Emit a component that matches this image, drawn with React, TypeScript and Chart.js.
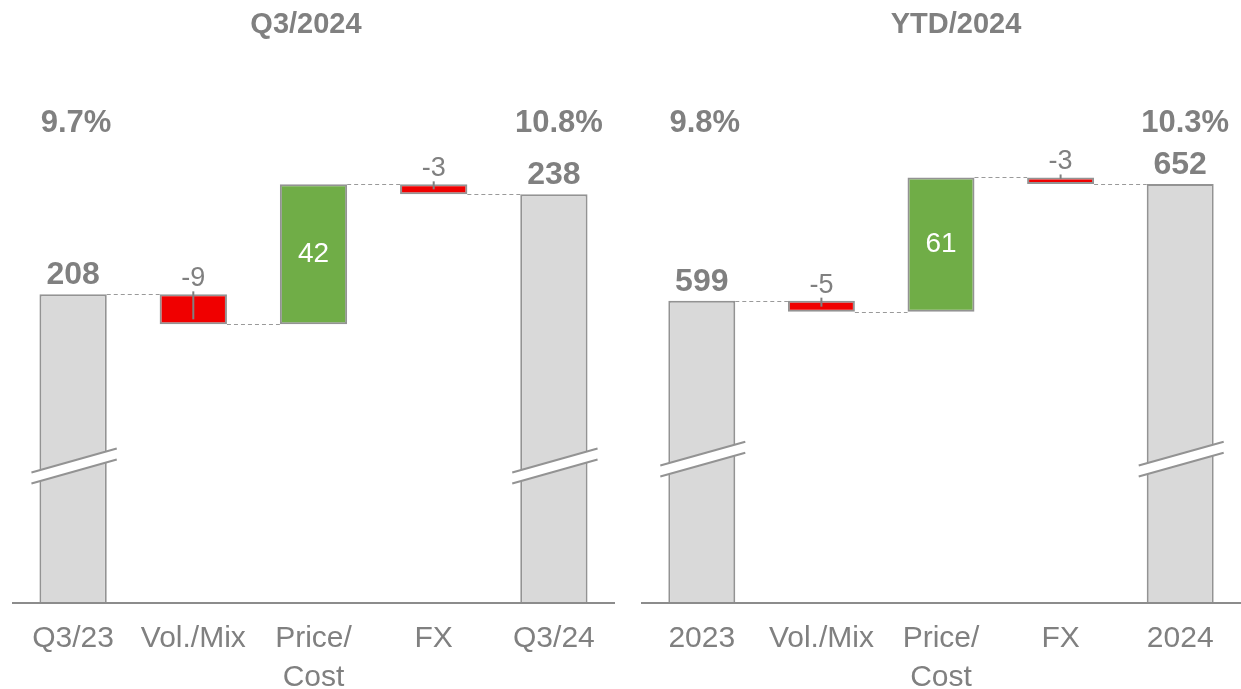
import React, { useEffect, useRef } from "react";
import { Chart, registerables } from "chart.js";

Chart.register(...registerables);

// ---------- data ----------
const q3Title = "Q3/2024";
const q3Categories = [["Q3/23"], ["Vol./Mix"], ["Price/", "Cost"], ["FX"], ["Q3/24"]];
const q3Start = 208;
const q3Deltas = [-9, 42, -3];
const q3End = 238;
const q3Margins = ["9.7%", "10.8%"];
const q3AxisRange = [115.4, 266.3];
const q3BreakValue = 156.5;

const ytdTitle = "YTD/2024";
const ytdCategories = [["2023"], ["Vol./Mix"], ["Price/", "Cost"], ["FX"], ["2024"]];
const ytdStart = 599;
const ytdDeltas = [-5, 61, -3];
const ytdEnd = 652;
const ytdMargins = ["9.8%", "10.3%"];
const ytdAxisRange = [461.6, 690.2];
const ytdBreakValue = 527;

// ---------- styles ----------
const FONT = '"Liberation Sans", Arial, Helvetica, sans-serif';
const TEXT = "#808080";
const GRAY_FILL = "#d9d9d9";
const EDGE = "#939393";
const RED = "#f00000";
const GREEN = "#70ad47";

function buildRanges(start: number, deltas: number[], end: number) {
  const ranges: number[][] = [[0, start]];
  let level = start;
  for (const d of deltas) {
    ranges.push([level, level + d]);
    level += d;
  }
  ranges.push([0, end]);
  return ranges;
}

function buildColors(deltas: number[]) {
  return [GRAY_FILL, ...deltas.map((d) => (d < 0 ? RED : GREEN)), GRAY_FILL];
}

type Cfg = {
  title: string;
  titleX: number;
  categories: string[][];
  start: number;
  deltas: number[];
  end: number;
  margins: string[];
  axisRange: number[];
  breakValue: number;
  padLeft: number;
  padRight: number;
};

function makeDecor(cfg: Cfg) {
  const values = [cfg.start, ...cfg.deltas, cfg.end];
  return {
    id: "waterfallDecor",
    beforeDatasetsDraw(chart: any) {
      const ctx = chart.ctx;
      const meta = chart.getDatasetMeta(0);
      const ranges = chart.data.datasets[0].data as number[][];
      const y = chart.scales.y;
      ctx.save();
      ctx.strokeStyle = "#9a9a9a";
      ctx.lineWidth = 1;
      ctx.setLineDash([4, 3]);
      for (let i = 0; i < ranges.length - 1; i++) {
        const a = meta.data[i];
        const b = meta.data[i + 1];
        const py = Math.round(y.getPixelForValue(ranges[i][1])) + 0.5;
        ctx.beginPath();
        ctx.moveTo(a.x + a.width / 2, py);
        ctx.lineTo(b.x - b.width / 2, py);
        ctx.stroke();
      }
      ctx.restore();
    },
    afterDatasetsDraw(chart: any) {
      const ctx = chart.ctx;
      const meta = chart.getDatasetMeta(0);
      const ranges = chart.data.datasets[0].data as number[][];
      const y = chart.scales.y;
      const n = ranges.length;
      ctx.save();

      // axis breaks on the total bars
      [0, n - 1].forEach((i) => {
        const bar = meta.data[i];
        const cx = bar.x + 1;
        const cy = y.getPixelForValue(cfg.breakValue);
        const hw = bar.width / 2 + 9;
        const s = 0.28;
        const g = 11;
        const x1 = cx - hw;
        const x2 = cx + hw;
        const y1 = cy + s * hw - g / 2;
        const y2 = cy - s * hw - g / 2;
        ctx.fillStyle = "#ffffff";
        ctx.beginPath();
        ctx.moveTo(x1, y1);
        ctx.lineTo(x2, y2);
        ctx.lineTo(x2, y2 + g);
        ctx.lineTo(x1, y1 + g);
        ctx.closePath();
        ctx.fill();
        ctx.strokeStyle = EDGE;
        ctx.lineWidth = 2;
        ctx.beginPath();
        ctx.moveTo(x1, y1);
        ctx.lineTo(x2, y2);
        ctx.moveTo(x1, y1 + g);
        ctx.lineTo(x2, y2 + g);
        ctx.stroke();
      });

      // value labels
      ctx.textAlign = "center";
      ctx.textBaseline = "alphabetic";
      for (let i = 0; i < n; i++) {
        const bar = meta.data[i];
        const top = Math.min(y.getPixelForValue(ranges[i][0]), y.getPixelForValue(ranges[i][1]));
        const bottom = Math.max(y.getPixelForValue(ranges[i][0]), y.getPixelForValue(ranges[i][1]));
        const v = values[i];
        if (i === 0 || i === n - 1) {
          ctx.fillStyle = TEXT;
          ctx.font = `bold 32px ${FONT}`;
          ctx.fillText(String(v), bar.x, top - 10);
        } else if (v < 0) {
          ctx.fillStyle = TEXT;
          ctx.font = `27px ${FONT}`;
          ctx.fillText(String(v), bar.x, top - 8);
          ctx.strokeStyle = TEXT;
          ctx.lineWidth = 2;
          ctx.beginPath();
          ctx.moveTo(bar.x, top - 3);
          ctx.lineTo(bar.x, bottom - 5);
          ctx.stroke();
        } else {
          ctx.fillStyle = "#ffffff";
          ctx.font = `28px ${FONT}`;
          ctx.textBaseline = "middle";
          ctx.fillText(String(v), bar.x, (top + bottom) / 2);
          ctx.textBaseline = "alphabetic";
        }
      }

      // margin percentages
      ctx.fillStyle = TEXT;
      ctx.font = `bold 31px ${FONT}`;
      ctx.fillText(cfg.margins[0], meta.data[0].x + 3, 132);
      ctx.fillText(cfg.margins[1], meta.data[n - 1].x + 5, 132);

      // title
      ctx.font = `bold 29px ${FONT}`;
      ctx.fillText(cfg.title, cfg.titleX, 33);
      ctx.restore();
    },
  };
}

function WaterfallChart({ cfg, left, width }: { cfg: Cfg; left: number; width: number }) {
  const ref = useRef<HTMLCanvasElement | null>(null);
  useEffect(() => {
    if (!ref.current) return;
    const ranges = buildRanges(cfg.start, cfg.deltas, cfg.end);
    const chart = new Chart(ref.current, {
      type: "bar",
      data: {
        labels: cfg.categories as any,
        datasets: [
          {
            data: ranges as any,
            backgroundColor: buildColors(cfg.deltas),
            borderColor: EDGE,
            borderWidth: 2,
            borderSkipped: false,
            categoryPercentage: 1,
            barPercentage: 0.56,
            clip: 0,
          } as any,
        ],
      },
      options: {
        responsive: false,
        animation: false,
        layout: { padding: { top: 100, left: cfg.padLeft, right: cfg.padRight, bottom: 0 } },
        plugins: {
          legend: { display: false },
          tooltip: { enabled: false },
          title: { display: false },
        },
        scales: {
          x: {
            grid: { display: false, drawTicks: false },
            border: { display: true, color: "#8c8c8c", width: 2, z: 1 },
            ticks: {
              color: TEXT,
              font: { family: FONT, size: 30, lineHeight: 1.3 },
              padding: 16,
              maxRotation: 0,
              autoSkip: false,
            },
            afterFit: (s: any) => {
              s.height = 86;
            },
          },
          y: {
            display: false,
            min: cfg.axisRange[0],
            max: cfg.axisRange[1],
          },
        },
      } as any,
      plugins: [makeDecor(cfg)],
    });
    return () => chart.destroy();
  }, [cfg]);
  return (
    <canvas
      ref={ref}
      width={width}
      height={689}
      style={{ position: "absolute", left, top: 0, width, height: 689 }}
    />
  );
}

const q3Cfg: Cfg = {
  title: q3Title,
  titleX: 306,
  categories: q3Categories,
  start: q3Start,
  deltas: q3Deltas,
  end: q3End,
  margins: q3Margins,
  axisRange: q3AxisRange,
  breakValue: q3BreakValue,
  padLeft: 13,
  padRight: 6,
};

const ytdCfg: Cfg = {
  title: ytdTitle,
  titleX: 336,
  categories: ytdCategories,
  start: ytdStart,
  deltas: ytdDeltas,
  end: ytdEnd,
  margins: ytdMargins,
  axisRange: ytdAxisRange,
  breakValue: ytdBreakValue,
  padLeft: 22,
  padRight: 1,
};

export default function App() {
  return (
    <div
      style={{
        position: "absolute",
        left: 0,
        top: 0,
        width: 1241,
        height: 689,
        background: "#ffffff",
        overflow: "hidden",
      }}
    >
      <WaterfallChart cfg={q3Cfg} left={0} width={620} />
      <WaterfallChart cfg={ytdCfg} left={620} width={621} />
    </div>
  );
}
